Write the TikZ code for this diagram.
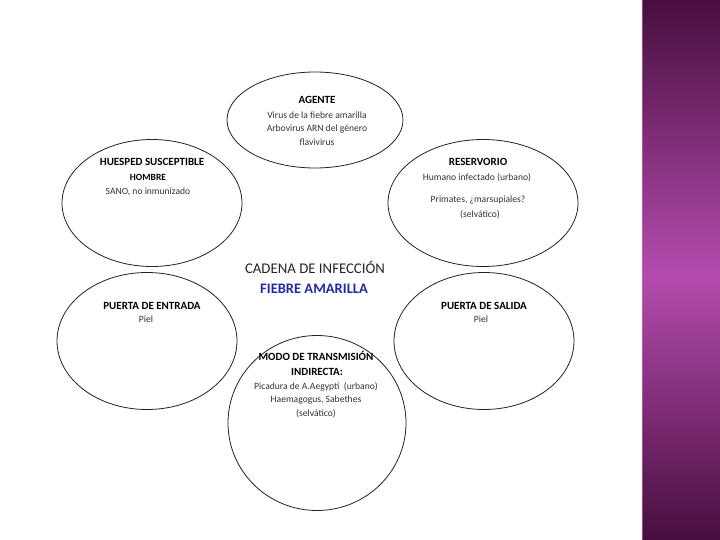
\documentclass[tikz,border=0pt]{standalone}
\usepackage{fontspec}
\setmainfont{Carlito}
\definecolor{bandtop}{RGB}{72,14,62}
\definecolor{bandmid}{RGB}{180,76,174}
\definecolor{titleblue}{RGB}{35,40,165}
\definecolor{ringline}{RGB}{35,35,35}
\tikzset{
  ring/.style={draw=ringline, line width=0.8pt, ellipse, inner sep=0pt},
  ttl/.style={font=\fontsize{11}{12}\selectfont\bfseries, inner sep=0pt, anchor=base},
  sub/.style={font=\fontsize{9.5}{10}\selectfont\bfseries, inner sep=0pt, anchor=base},
  txt/.style={font=\fontsize{9.6}{10}\selectfont, inner sep=0pt, anchor=base, text=black!80}
}
\usetikzlibrary{shapes.geometric}
\begin{document}
\begin{tikzpicture}[x=1pt,y=-1pt]
\useasboundingbox (0,0) rectangle (720,540);
\fill[white] (0,0) rectangle (720,540);
% purple band
\shade[top color=bandtop, bottom color=bandmid] (642,0) rectangle (720,275);
\shade[top color=bandmid, bottom color=bandtop] (642,275) rectangle (720,540);
\draw[bandmid!70!white, line width=0.6pt, opacity=0.5] (642.5,0) -- (642.5,540);

% ellipses
\node[ring, minimum width=176pt, minimum height=96pt] (agente) at (315,120) {};
\node[ring, minimum width=180pt, minimum height=127pt] (huesped) at (152,203) {};
\node[ring, minimum width=190pt, minimum height=127pt] (reserv) at (483,203) {};
\node[ring, minimum width=180pt, minimum height=137pt] (entrada) at (147,341) {};
\node[ring, minimum width=180pt, minimum height=137pt] (salida) at (484,341) {};
\node[ring, minimum width=178pt, minimum height=175pt] (modo) at (317,423) {};

% AGENTE
\node[ttl] (t1) at (317,104) {AGENTE};
\node[txt] (t1a) at (317,119) {Virus de la fiebre amarilla};
\node[txt] (t1b) at (317,132) {Arbovirus ARN del género};
\node[txt] (t1c) at (317,146) {flavivirus};

% HUESPED
\node[ttl] (t2) at (152,166) {HUESPED SUSCEPTIBLE};
\node[sub] (t2a) at (148,181) {HOMBRE};
\node[txt] (t2b) at (148,195) {SANO, no inmunizado};

% RESERVORIO
\node[ttl] (t3) at (478,166) {RESERVORIO};
\node[txt] (t3a) at (477,181) {Humano infectado (urbano)};
\node[txt] (t3b) at (478,203) {Primates, ¿marsupiales?};
\node[txt] (t3c) at (480,218) {(selvático)};

% center title
\node[font=\fontsize{14.8}{16}\selectfont, inner sep=0pt, anchor=base, text=black!85] (c1) at (315,273) {CADENA DE INFECCIÓN};
\node[font=\fontsize{14.5}{16}\selectfont\bfseries, inner sep=0pt, anchor=base, text=titleblue] (c2) at (314,293) {FIEBRE AMARILLA};

% PUERTA DE ENTRADA
\node[ttl] (t4) at (152,309) {PUERTA DE ENTRADA};
\node[txt] (t4a) at (146,322) {Piel};

% PUERTA DE SALIDA
\node[ttl] (t5) at (484,309) {PUERTA DE SALIDA};
\node[txt] (t5a) at (481,322) {Piel};

% MODO
\node[ttl] (t6) at (316,360) {MODO DE TRANSMISIÓN};
\node[ttl] (t6a) at (317,375) {INDIRECTA:};
\node[txt] (t6b) at (316,389) {Picadura de A.Aegypti\ \ (urbano)};
\node[txt] (t6c) at (316,402) {Haemagogus, Sabethes};
\node[txt] (t6d) at (316,416) {(selvático)};
\end{tikzpicture}
\end{document}
